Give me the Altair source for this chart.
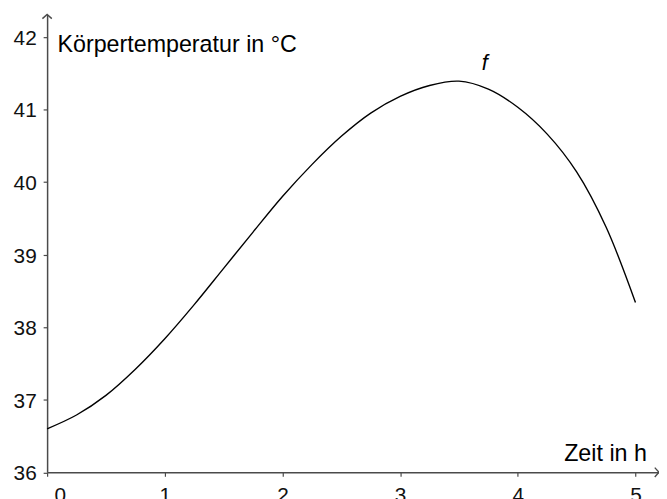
import altair as alt
import pandas as pd

# curve f (time in h, body temperature in °C)
t_vals = [0, 0.25, 0.5, 0.75, 1.0, 1.25, 1.5, 1.75, 2.0, 2.25, 2.5,
          2.75, 3.0, 3.25, 3.5, 3.75, 4.0, 4.25, 4.5, 4.75, 5.0]
temp_vals = [36.6, 36.79, 37.06, 37.42, 37.84, 38.31, 38.81, 39.31, 39.80, 40.24, 40.63,
             40.95, 41.18, 41.33, 41.39, 41.28, 41.03, 40.66, 40.14, 39.38, 38.34]

x_ticks = [0, 1, 2, 3, 4, 5]
y_ticks = [36, 37, 38, 39, 40, 41, 42]
x_domain = [0, 5.2]
y_domain = [36, 42.31]

labels_text = ["Körpertemperatur in °C", "Zeit in h"]
labels_x = [0.088, 5.097]
labels_y = [41.795, 36.157]

f_label = ["f"]
f_x = [3.72]
f_y = [41.54]

AX = "#4a4a4a"
FONT = "Liberation Sans"

curve = pd.DataFrame({"t": t_vals, "T": temp_vals})
xs = alt.Scale(domain=x_domain, nice=False, zero=False)
ys = alt.Scale(domain=y_domain, nice=False, zero=False)

x_axis = alt.Axis(values=x_ticks, format="d", title=None, grid=False, domainColor=AX, domainWidth=1.5,
                  tickColor=AX, tickWidth=1.2, tickSize=4, labelFont=FONT, labelFontSize=21,
                  labelColor="#111", labelPadding=8, labelAngle=0,
                  labelOffset={"condition": {"test": "datum.value == 0", "value": 7}, "value": 0})
y_axis = alt.Axis(values=y_ticks, format="d", title=None, grid=False, domainColor=AX, domainWidth=1.5,
                  tickColor=AX, tickWidth=1.2, tickSize=4, labelFont=FONT, labelFontSize=21,
                  labelColor="#111", labelPadding=7, labelOffset=1.5)

line = alt.Chart(curve).mark_line(color="black", strokeWidth=1.4, interpolate="catmull-rom").encode(
    x=alt.X("t:Q", scale=xs, axis=x_axis),
    y=alt.Y("T:Q", scale=ys, axis=y_axis),
)

arrow_right = alt.Chart(pd.DataFrame({"t": [x_domain[1]], "T": [y_domain[0]]})).mark_point(
    shape="M-0.9,-1L0,0L-0.9,1", filled=False, size=90, color=AX, strokeWidth=1.4, opacity=1
).encode(x=alt.X("t:Q", scale=xs), y=alt.Y("T:Q", scale=ys))

arrow_up = alt.Chart(pd.DataFrame({"t": [x_domain[0]], "T": [y_domain[1]]})).mark_point(
    shape="M-1,0.9L0,0L1,0.9", filled=False, size=90, color=AX, strokeWidth=1.4, opacity=1
).encode(x=alt.X("t:Q", scale=xs), y=alt.Y("T:Q", scale=ys))

lab_df = pd.DataFrame({"txt": labels_text, "t": labels_x, "T": labels_y})
lab_left = alt.Chart(lab_df.iloc[[0]]).mark_text(
    align="left", baseline="alphabetic", font=FONT, fontSize=23.5, color="black"
).encode(x=alt.X("t:Q", scale=xs), y=alt.Y("T:Q", scale=ys), text="txt:N")
lab_right = alt.Chart(lab_df.iloc[[1]]).mark_text(
    align="right", baseline="alphabetic", font=FONT, fontSize=23.5, color="black"
).encode(x=alt.X("t:Q", scale=xs), y=alt.Y("T:Q", scale=ys), text="txt:N")

f_text = alt.Chart(pd.DataFrame({"txt": f_label, "t": f_x, "T": f_y})).mark_text(
    align="center", baseline="alphabetic", font=FONT, fontSize=22, fontStyle="italic", color="black"
).encode(x=alt.X("t:Q", scale=xs), y=alt.Y("T:Q", scale=ys), text="txt:N")

chart = alt.layer(line, arrow_right, arrow_up, lab_left, lab_right, f_text).properties(
    width=618, height=462.5,
    padding={"left": 39.5, "top": 4, "right": 0, "bottom": 25},
    autosize=alt.AutoSizeParams(type="none"),
    background="white",
).configure_view(stroke=None)

chart.save("out.html", embed_options={"renderer": "svg", "actions": False})
